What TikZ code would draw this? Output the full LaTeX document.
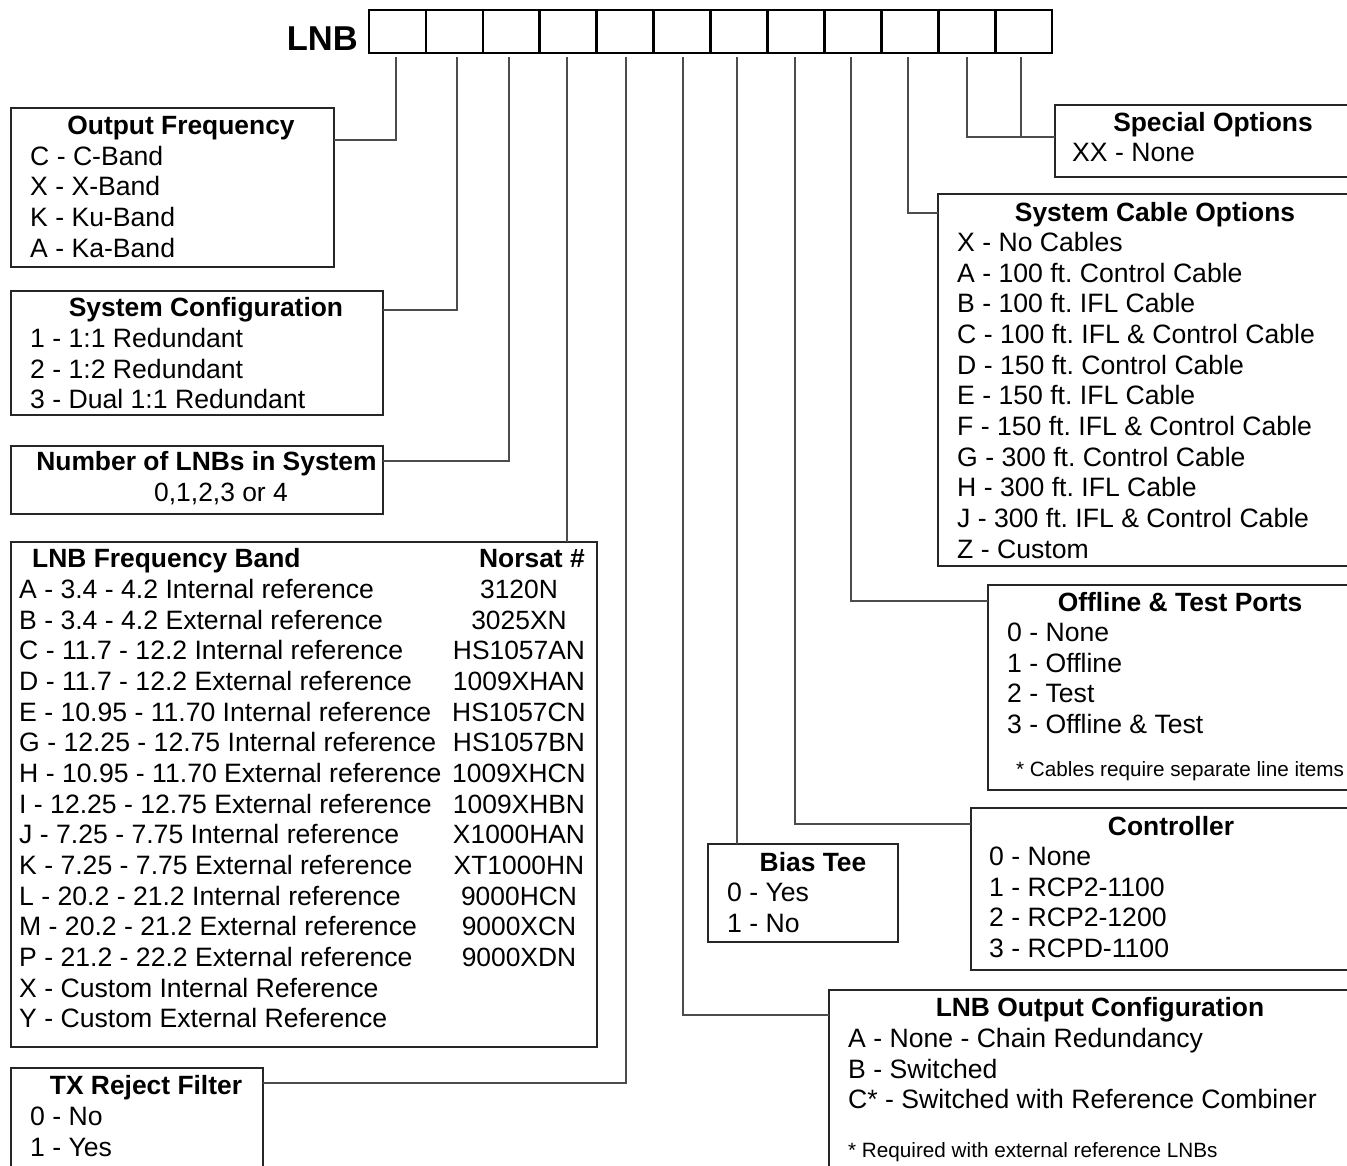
\documentclass[tikz,border=0pt]{standalone}
\usepackage{fontspec}
\setmainfont{Liberation Sans}
\frenchspacing
\begin{document}
\begin{tikzpicture}[x=1pt,y=-1pt,
  box/.style={draw=black!85, line width=1.3pt, anchor=north west, inner sep=0pt, outer sep=0pt},
  conn/.style={draw=black!70, line width=1.2pt},
  cellbox/.style={draw=black, line width=2.6pt, minimum width=56.92pt, minimum height=43pt, inner sep=0pt, outer sep=0pt, anchor=north west},
  ttl/.style={font=\fontsize{26.4}{30}\selectfont\bfseries, inner sep=0pt, anchor=base},
  itm/.style={font=\fontsize{26.6}{30}\selectfont, inner sep=0pt, anchor=base west},
  code/.style={font=\fontsize{26.4}{30}\selectfont, inner sep=0pt, anchor=base},
  note/.style={font=\fontsize{20.7}{24}\selectfont, inner sep=0pt, anchor=base west}]
\clip (0,0) rectangle (1347,1165);
\fill[white] (0,0) rectangle (1347,1165);

% header
\node[font=\fontsize{34.5}{40}\selectfont\bfseries, inner sep=0pt, anchor=base east] (lnb) at (358,50) {LNB};
\foreach \i in {1,...,12} {
  \node[cellbox, minimum width=57pt] (c\i) at ({369+56.92*(\i-1)},10) {};
}

% connector start points
\coordinate (t1) at (396,57);
\coordinate (t2) at (457,57);
\coordinate (t3) at (509,57);
\coordinate (t4) at (567,57);
\coordinate (t5) at (626,57);
\coordinate (t6) at (683,57);
\coordinate (t7) at (737,57);
\coordinate (t8) at (795,57);
\coordinate (t9) at (851,57);
\coordinate (t10) at (908,57);
\coordinate (t11) at (967,57);
\coordinate (t12) at (1021,57);
\coordinate (j12) at (1021,137);

% boxes
\node[box, minimum width=323pt, minimum height=159pt] (of) at (11,108) {};
\node[box, minimum width=372pt, minimum height=124pt] (sc) at (11,291) {};
\node[box, minimum width=372pt, minimum height=68pt] (nl) at (11,446) {};
\node[box, minimum width=586pt, minimum height=505pt] (lfb) at (11,542) {};
\node[box, minimum width=252pt, minimum height=130pt] (tx) at (11,1068) {};
\node[box, minimum width=320pt, minimum height=72pt] (so) at (1055,105) {};
\node[box, minimum width=420pt, minimum height=372pt] (sco) at (938,194) {};
\node[box, minimum width=380pt, minimum height=205pt] (otp) at (988,585) {};
\node[box, minimum width=400pt, minimum height=162pt] (ctrl) at (971,808) {};
\node[box, minimum width=190pt, minimum height=98pt] (bt) at (708,844) {};
\node[box, minimum width=540pt, minimum height=200pt] (loc) at (829,990) {};

% connectors
\draw[conn] (t1) |- ([yshift=-32pt]of.north east);
\draw[conn] (t2) |- ([yshift=-19pt]sc.north east);
\draw[conn] (t3) |- ([yshift=-15pt]nl.north east);
\draw[conn] (t4) -- (t4 |- lfb.north);
\draw[conn] (t5) |- ([yshift=-15pt]tx.north east);
\draw[conn] (t6) |- ([yshift=-25pt]loc.north west);
\draw[conn] (t7) -- (t7 |- bt.north);
\draw[conn] (t8) |- ([yshift=-16pt]ctrl.north west);
\draw[conn] (t9) |- ([yshift=-16pt]otp.north west);
\draw[conn] (t10) |- ([yshift=-19pt]sco.north west);
\draw[conn] (t11) |- ([yshift=-32pt]so.north west);
\draw[conn] (t12) -- (j12);

% Output Frequency
\node[ttl] (ofT) at (181,134.5) {Output Frequency};
\node[itm] (of1) at (30,165.5) {C - C-Band};
\node[itm] (of2) at (30,195.5) {X - X-Band};
\node[itm] (of3) at (30,226.5) {K - Ku-Band};
\node[itm] (of4) at (30,257.5) {A - Ka-Band};

% System Configuration
\node[ttl] (scT) at (206,316.5) {System Configuration};
\node[itm] (sc1) at (30,347.5) {1 - 1:1 Redundant};
\node[itm] (sc2) at (30,378.5) {2 - 1:2 Redundant};
\node[itm] (sc3) at (30,408.5) {3 - Dual 1:1 Redundant};

% Number of LNBs
\node[ttl] (nlT) at (206.5,470.5) {Number of LNBs in System};
\node[code] (nl1) at (221,501.5) {0,1,2,3 or 4};

% LNB Frequency Band
\node[ttl, anchor=base west] (lfbT) at (32,567.5) {LNB Frequency Band};
\node[ttl, anchor=base east] (lfbN) at (585,567.5) {Norsat \#};
\foreach \t/\c [count=\k from 0] in {
  A - 3.4 - 4.2 Internal reference/3120N,
  B - 3.4 - 4.2 External reference/3025XN,
  C - 11.7 - 12.2 Internal reference/HS1057AN,
  D - 11.7 - 12.2 External reference/1009XHAN,
  E - 10.95 - 11.70 Internal reference/HS1057CN,
  G - 12.25 - 12.75 Internal reference/HS1057BN,
  H - 10.95 - 11.70 External reference/1009XHCN,
  I - 12.25 - 12.75 External reference/1009XHBN,
  J - 7.25 - 7.75 Internal reference/X1000HAN,
  K - 7.25 - 7.75 External reference/XT1000HN,
  L - 20.2 - 21.2 Internal reference/9000HCN,
  M - 20.2 - 21.2 External reference/9000XCN,
  P - 21.2 - 22.2 External reference/9000XDN} {
  \node[itm] (lfb\k) at (19,{598.5+30.65*\k}) {\t};
  \node[code] (lfbc\k) at (519,{598.5+30.65*\k}) {\c};
}
\node[itm] (lfbX) at (19,997) {X - Custom Internal Reference};
\node[itm] (lfbY) at (19,1027.6) {Y - Custom External Reference};

% TX Reject Filter
\node[ttl] (txT) at (146,1094.5) {TX Reject Filter};
\node[itm] (tx1) at (30,1125.5) {0 - No};
\node[itm] (tx2) at (30,1156.5) {1 - Yes};

% Special Options
\node[ttl] (soT) at (1213,131.5) {Special Options};
\node[itm] (so1) at (1072,161.5) {XX - None};

% System Cable Options
\node[ttl] (scoT) at (1155,221.5) {System Cable Options};
\foreach \t [count=\k from 0] in {
  X - No Cables,
  A - 100 ft. Control Cable,
  B - 100 ft. IFL Cable,
  C - 100 ft. IFL \& Control Cable,
  D - 150 ft. Control Cable,
  E - 150 ft. IFL Cable,
  F - 150 ft. IFL \& Control Cable,
  G - 300 ft. Control Cable,
  H - 300 ft. IFL Cable,
  J - 300 ft. IFL \& Control Cable,
  Z - Custom} {
  \node[itm] (sco\k) at (957,{251.5+30.65*\k}) {\t};
}

% Offline & Test Ports
\node[ttl] (otpT) at (1180,611.5) {Offline \& Test Ports};
\node[itm] (otp1) at (1007,641.5) {0 - None};
\node[itm] (otp2) at (1007,672.2) {1 - Offline};
\node[itm] (otp3) at (1007,702.8) {2 - Test};
\node[itm] (otp4) at (1007,733.5) {3 - Offline \& Test};
\node[note] (otpN) at (1016,776.4) {* Cables require separate line items};

% Controller
\node[ttl] (ctrlT) at (1171,835.5) {Controller};
\node[itm] (ctrl1) at (989,865.5) {0 - None};
\node[itm] (ctrl2) at (989,896.2) {1 - RCP2-1100};
\node[itm] (ctrl3) at (989,926.8) {2 - RCP2-1200};
\node[itm] (ctrl4) at (989,957.5) {3 - RCPD-1100};

% Bias Tee
\node[ttl] (btT) at (813,871.5) {Bias Tee};
\node[itm] (bt1) at (727,901.5) {0 - Yes};
\node[itm] (bt2) at (727,932) {1 - No};

% LNB Output Configuration
\node[ttl] (locT) at (1100,1016.5) {LNB Output Configuration};
\node[itm] (loc1) at (848,1047.5) {A - None - Chain Redundancy};
\node[itm] (loc2) at (848,1078) {B - Switched};
\node[itm] (loc3) at (848,1108.5) {C* - Switched with Reference Combiner};
\node[note] (locN) at (848,1157) {* Required with external reference LNBs};
\end{tikzpicture}
\end{document}
